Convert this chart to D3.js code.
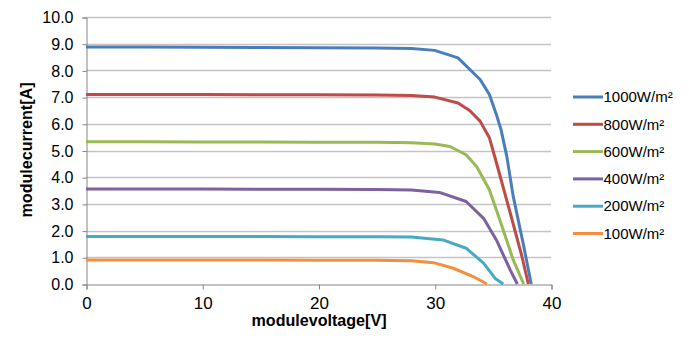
<!DOCTYPE html>
<html>
<head>
<meta charset="utf-8">
<script src="https://cdn.jsdelivr.net/npm/d3@7"></script>
<style>
  body { margin: 0; background: #fff; }
  text { font-family: "Liberation Sans", Arial, sans-serif; fill: #000; }
</style>
</head>
<body>
<script>
// series labels + colours (Excel 2007 palette)
const seriesNames = ["1000W/m²", "800W/m²", "600W/m²", "400W/m²", "200W/m²", "100W/m²"];
const seriesColors = ["#4a7ebb", "#be4b48", "#98b954", "#7d60a0", "#46aac5", "#f58e3f"];

// module voltage [V] / current [A] per irradiance
const v1000 = [0, 5, 10, 15, 20, 25, 28, 30, 32, 33.9, 34.7, 35.3, 35.7, 36.2, 36.75, 37.6, 38.3];
const i1000 = [8.88, 8.88, 8.87, 8.86, 8.85, 8.84, 8.82, 8.75, 8.47, 7.66, 7.10, 6.35, 5.78, 4.78, 3.28, 1.53, 0];
const v800 = [0, 5, 10, 15, 20, 25, 28, 30, 32, 33, 33.9, 34.7, 35.3, 36.5, 37.5, 38.05];
const i800 = [7.10, 7.10, 7.10, 7.09, 7.09, 7.08, 7.06, 7.00, 6.78, 6.50, 6.10, 5.48, 4.55, 2.65, 1.03, 0];
const v600 = [0, 5, 10, 15, 20, 25, 28, 30, 31.3, 32.7, 33.6, 34.7, 35.6, 36.75, 37.65];
const i600 = [5.33, 5.33, 5.32, 5.32, 5.31, 5.31, 5.29, 5.24, 5.15, 4.84, 4.40, 3.53, 2.40, 0.90, 0];
const v400 = [0, 5, 10, 15, 20, 25, 28, 30.4, 32.7, 34.2, 35.3, 36.5, 37.1];
const i400 = [3.56, 3.56, 3.56, 3.55, 3.55, 3.54, 3.52, 3.43, 3.09, 2.46, 1.65, 0.52, 0];
const v200 = [0, 5, 10, 15, 20, 25, 28, 30.7, 32.7, 34.2, 35.2, 35.9];
const i200 = [1.78, 1.78, 1.78, 1.78, 1.77, 1.77, 1.76, 1.65, 1.34, 0.78, 0.21, 0];
const v100 = [0, 5, 10, 15, 20, 25, 28, 29.9, 31.6, 33.3, 34.5];
const i100 = [0.90, 0.90, 0.90, 0.90, 0.89, 0.89, 0.87, 0.80, 0.59, 0.28, 0];

const xTicks = [0, 10, 20, 30, 40];
const yTicks = [0, 1, 2, 3, 4, 5, 6, 7, 8, 9, 10];

const voltages = [v1000, v800, v600, v400, v200, v100];
const currents = [i1000, i800, i600, i400, i200, i100];
const series = seriesNames.map((name, k) => ({
  name,
  color: seriesColors[k],
  points: voltages[k].map((v, j) => ({ v, i: currents[k][j] }))
}));

const width = 689;
const height = 341;
const marginLeft = 86;
const plotRight = 551;
const plotTop = 17;
const plotBottom = 284;

const x = d3.scaleLinear().domain([0, 40]).range([marginLeft, plotRight]);
const y = d3.scaleLinear().domain([0, 10]).range([plotBottom, plotTop]);

const svg = d3.create("svg")
  .attr("width", width)
  .attr("height", height);

// horizontal gridlines
svg.append("g")
  .attr("stroke", "#c4c4c4")
  .attr("stroke-width", 1.5)
  .selectAll("line")
  .data(yTicks.filter(d => d > 0))
  .join("line")
  .attr("x1", marginLeft)
  .attr("x2", plotRight)
  .attr("y1", d => Math.round(y(d)) + 0.5)
  .attr("y2", d => Math.round(y(d)) + 0.5);

// y axis
const yAxis = svg.append("g")
  .attr("transform", `translate(${marginLeft + 0.5},0.5)`)
  .call(d3.axisLeft(y).tickValues(yTicks).tickFormat(d3.format(".1f")).tickSize(4).tickPadding(9));
yAxis.select(".domain").attr("stroke", "#868686");
yAxis.selectAll(".tick line").attr("stroke", "#868686");
yAxis.selectAll(".tick text").attr("font-size", 16).attr("font-family", "Liberation Sans, Arial, sans-serif");

// x axis
const xAxis = svg.append("g")
  .attr("transform", `translate(0.5,${plotBottom + 0.5})`)
  .call(d3.axisBottom(x).tickValues(xTicks).tickFormat(d3.format("d")).tickSize(5).tickPadding(7));
xAxis.select(".domain").attr("stroke", "#868686");
xAxis.selectAll(".tick line").attr("stroke", "#868686");
xAxis.selectAll(".tick text").attr("font-size", 17).attr("font-family", "Liberation Sans, Arial, sans-serif");

// curves
const line = d3.line()
  .x(d => x(d.v))
  .y(d => y(d.i));

svg.append("g")
  .attr("fill", "none")
  .attr("stroke-width", 3)
  .attr("stroke-linejoin", "round")
  .selectAll("path")
  .data(series)
  .join("path")
  .attr("stroke", d => d.color)
  .attr("d", d => line(d.points));

// axis titles
svg.append("text")
  .attr("x", 319)
  .attr("y", 326)
  .attr("text-anchor", "middle")
  .attr("font-size", 16)
  .attr("font-weight", "bold")
  .attr("textLength", 135)
  .attr("lengthAdjust", "spacingAndGlyphs")
  .text("modulevoltage[V]");

svg.append("text")
  .attr("transform", "translate(32,150) rotate(-90)")
  .attr("text-anchor", "middle")
  .attr("font-size", 16)
  .attr("font-weight", "bold")
  .attr("textLength", 135)
  .attr("lengthAdjust", "spacingAndGlyphs")
  .text("modulecurrent[A]");

// legend
const legend = svg.append("g")
  .selectAll("g")
  .data(series)
  .join("g")
  .attr("transform", (d, k) => `translate(573,${97 + k * 27.3})`);

legend.append("line")
  .attr("x1", 0)
  .attr("x2", 30)
  .attr("stroke", d => d.color)
  .attr("stroke-width", 3);

legend.append("text")
  .attr("x", 30.5)
  .attr("dy", "0.35em")
  .attr("font-size", 15)
  .text(d => d.name);

document.body.appendChild(svg.node());
</script>
</body>
</html>
